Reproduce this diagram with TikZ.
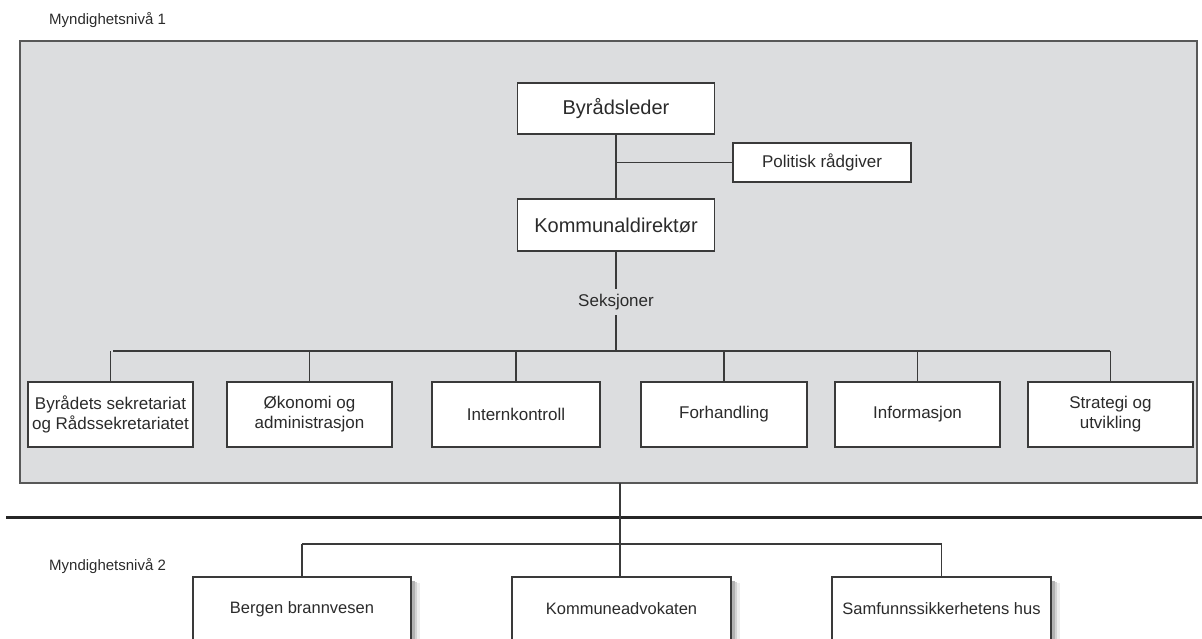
\documentclass[tikz,border=0pt]{standalone}
\usepackage{fontspec}
\setmainfont{Liberation Sans}
\definecolor{panelgray}{HTML}{DCDDDF}
\definecolor{edgecol}{HTML}{3A3A3A}
\definecolor{txtcol}{HTML}{2B2B2B}
\begin{document}
\begin{tikzpicture}[x=1pt,y=-1pt,
  panelbox/.style={draw=edgecol!85, line width=1.6pt, fill=panelgray, inner sep=0pt},
  orgbox/.style={draw=edgecol, line width=1.4pt, fill=white, inner sep=0pt, align=center, text=txtcol},
  bigbox/.style={orgbox, font=\fontsize{20}{24}\selectfont},
  midbox/.style={orgbox, font=\fontsize{17}{20}\selectfont},
  lowbox/.style={orgbox, font=\fontsize{16.5}{20}\selectfont},
  lowtext/.style={text=txtcol, font=\fontsize{16.5}{20}\selectfont},
  shadeA/.style={fill=black, opacity=0.30},
  shadeB/.style={fill=black, opacity=0.17},
  shadeC/.style={fill=black, opacity=0.07},
  levellabel/.style={text=txtcol, font=\fontsize{15}{18}\selectfont, anchor=west, inner sep=0pt},
  conn/.style={draw=edgecol, line width=1.5pt},
  rulestyle/.style={draw=black!85, line width=3pt}]
\useasboundingbox (0,0) rectangle (1202,638);
\clip (0,0) rectangle (1202,638);

% panel and level labels
\node[panelbox, minimum width=1177pt, minimum height=442pt] (panel) at (608.5,262) {};
\node[levellabel] (lvl1) at (49,20) {Myndighetsnivå 1};
\node[levellabel] (lvl2) at (49,566) {Myndighetsnivå 2};
\coordinate (ruleL) at (6,517);
\coordinate (ruleR) at (1202,517);

% top boxes
\node[bigbox, minimum width=197pt, minimum height=51pt] (byr) at (616,108.5) {Byrådsleder};
\node[bigbox, minimum width=197pt, minimum height=52pt] (kd) at (616,225) {Kommunaldirektør};
\node[midbox, minimum width=178pt, minimum height=39pt] (pol) at (822,162.5) {Politisk rådgiver};
\coordinate (polj) at (616,162.5);
\node[text=txtcol, fill=panelgray, font=\fontsize{17}{20}\selectfont, inner xsep=2pt, inner ysep=5pt] (seks) at (616,302) {Seksjoner};

% section row
\coordinate (busL) at (113,351);
\coordinate (busR) at (1110,351);
\coordinate (busM) at (616,351);
\node[midbox, minimum width=165pt, minimum height=65pt] (s1) at (110.5,414.5) {Byrådets sekretariat\\og Rådssekretariatet};
\node[midbox, minimum width=165pt, minimum height=65pt] (s2) at (309.5,414.5) {Økonomi og\\administrasjon};
\node[midbox, minimum width=168pt, minimum height=65pt] (s3) at (516,414.5) {Internkontroll};
\node[midbox, minimum width=166pt, minimum height=65pt] (s4) at (724,414.5) {Forhandling};
\node[midbox, minimum width=165pt, minimum height=65pt] (s5) at (917.5,414.5) {Informasjon};
\node[midbox, minimum width=165pt, minimum height=65pt] (s6) at (1110.5,414.5) {Strategi og\\utvikling};

% level 2
\coordinate (bus2L) at (302,544);
\coordinate (bus2R) at (941.5,544);
\coordinate (trunk2) at (620,483);
\node[lowbox, minimum width=218pt, minimum height=120pt] (l1) at (302,637) {};
\node[lowbox, minimum width=219pt, minimum height=120pt] (l2) at (621.5,637) {};
\node[lowbox, minimum width=219pt, minimum height=120pt] (l3) at (941.5,637) {};
\foreach \b in {l1,l2,l3} {
  \fill[shadeA] ([xshift=0.7pt,yshift=-5pt]\b.north east) rectangle ([xshift=3pt]\b.south east);
  \fill[shadeB] ([xshift=3pt,yshift=-6pt]\b.north east) rectangle ([xshift=5.5pt]\b.south east);
  \fill[shadeC] ([xshift=5.5pt,yshift=-7pt]\b.north east) rectangle ([xshift=8pt]\b.south east);
}
\node[lowtext] (t1) at (302,609) {Bergen brannvesen};
\node[lowtext] (t2) at (621.5,609) {Kommuneadvokaten};
\node[lowtext] (t3) at (941.5,609) {Samfunnssikkerhetens hus};

% connectors
\draw[conn] (byr.south) -- (kd.north);
\draw[conn] (polj) -- (pol.west);
\draw[conn] (kd.south) -- (seks.north);
\draw[conn] (seks.south) -- (busM);
\draw[conn] (busL) -- (busR);
\foreach \b in {s1,s2,s3,s4,s5,s6} {
  \draw[conn] (\b.north) -- (\b.north |- busL);
}
\draw[rulestyle] (ruleL) -- (ruleR);
\draw[conn] (trunk2) -- (trunk2 |- l2.north);
\draw[conn] (bus2L) -- (bus2R);
\draw[conn] (l1.north) -- (l1.north |- bus2L);
\draw[conn] (l3.north) -- (l3.north |- bus2L);
\end{tikzpicture}
\end{document}
